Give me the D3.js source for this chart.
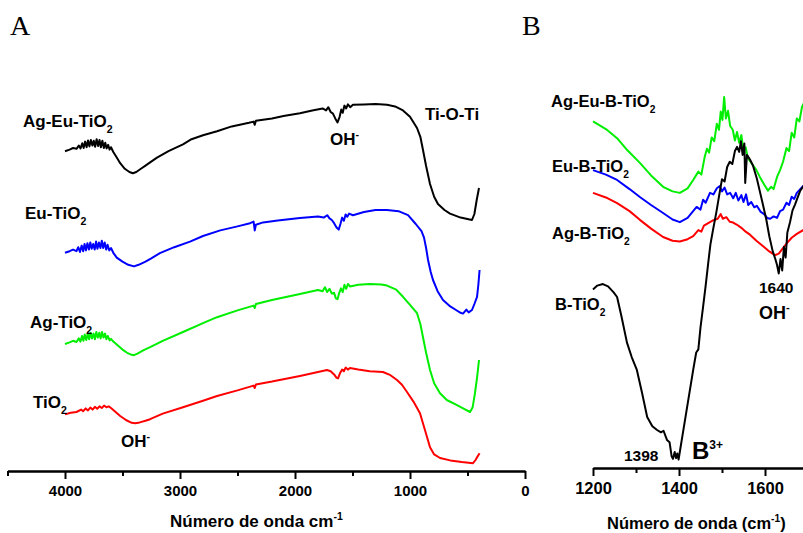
<!DOCTYPE html>
<html>
<head>
<meta charset="utf-8">
<script src="https://cdn.jsdelivr.net/npm/d3@7.9.0/dist/d3.min.js"></script>
<style>
  body { margin: 0; background: #fff; }
  svg { display: block; }
  text { font-family: "Liberation Sans", Arial, sans-serif; font-weight: bold; fill: #000; }
  .panel { font-family: "Liberation Serif", "Times New Roman", serif; font-weight: normal; }
</style>
</head>
<body>
<svg id="chart" width="803" height="533"></svg>
<script>
// panel A: wavenumber (cm-1) vs transmittance (a.u., offset curves)
const ticksA = [4000, 3000, 2000, 1000, 0];
const minorTicksA = [4500, 3500, 2500, 1500, 500];

const agEuTiO2 = [[4000,80.2],[3960,80.6],[3930,81.0],[3900,80.8],[3880,81.6],[3865,80.9],[3850,82.2],[3838,81.0],[3825,82.6],[3812,81.2],[3800,82.9],[3788,81.4],[3775,83.0],[3762,81.6],[3750,82.8],[3738,81.3],[3725,83.2],[3712,81.5],[3700,83.0],[3688,81.2],[3675,82.8],[3662,81.0],[3650,82.3],[3638,80.9],[3625,81.8],[3612,80.6],[3600,81.2],[3580,80.0],[3550,78.6],[3520,77.2],[3480,75.8],[3440,75.0],[3410,74.7],[3380,75.0],[3340,75.8],[3300,76.6],[3260,77.4],[3200,78.6],[3100,80.2],[2974,81.9],[2900,83.2],[2800,84.2],[2678,85.2],[2550,86.4],[2400,87.3],[2360,87.6],[2350,86.8],[2340,87.8],[2200,88.4],[2100,89.0],[1957,89.7],[1850,90.4],[1760,90.9],[1730,90.4],[1710,91.2],[1690,90.0],[1670,89.6],[1650,88.4],[1630,87.4],[1612,88.8],[1598,90.6],[1585,89.8],[1570,91.6],[1555,90.9],[1540,91.9],[1520,91.2],[1496,91.8],[1400,91.9],[1300,92.0],[1200,91.8],[1130,91.4],[1061,90.4],[1000,88.8],[939,86.0],[910,83.8],[887,80.5],[860,76.5],[826,72.0],[790,68.8],[757,67.0],[700,65.5],[652,64.6],[560,63.6],[461,63.0],[440,64.5],[420,68.0],[400,71.0]];

const euTiO2 = [[4000,54.8],[3960,55.2],[3930,55.6],[3900,55.2],[3885,56.2],[3870,55.0],[3855,56.6],[3842,55.2],[3830,57.0],[3818,55.4],[3805,57.2],[3792,55.6],[3780,57.4],[3768,55.8],[3755,57.0],[3742,55.6],[3730,57.6],[3718,55.8],[3705,57.4],[3692,56.0],[3680,57.8],[3668,56.0],[3655,57.4],[3642,55.6],[3630,56.8],[3615,55.4],[3600,56.0],[3580,54.8],[3550,53.6],[3500,52.6],[3450,51.8],[3400,51.4],[3360,51.8],[3300,52.6],[3250,53.4],[3175,54.7],[3050,56.2],[2913,57.6],[2800,59.0],[2650,60.4],[2500,61.4],[2391,62.2],[2360,62.6],[2350,60.4],[2340,61.8],[2278,62.4],[2150,62.9],[1957,63.5],[1800,63.9],[1750,63.6],[1720,64.2],[1700,63.4],[1680,63.0],[1660,62.2],[1640,61.2],[1620,60.6],[1605,62.0],[1590,63.6],[1575,62.8],[1560,64.4],[1545,63.8],[1530,64.6],[1496,64.2],[1400,65.0],[1300,65.5],[1200,65.5],[1100,65.2],[1017,64.2],[950,62.0],[900,60.2],[878,58.6],[860,56.0],[843,53.0],[820,50.0],[800,48.0],[760,45.2],[713,43.0],[650,41.4],[600,40.5],[560,39.8],[539,39.6],[510,40.6],[490,39.9],[461,40.5],[440,42.0],[417,43.8],[405,47.0],[395,50.5]];

const agTiO2 = [[4000,32.0],[3960,32.4],[3930,32.8],[3900,32.5],[3880,33.4],[3866,32.6],[3852,34.0],[3840,32.8],[3828,34.4],[3815,33.0],[3802,34.6],[3790,33.2],[3778,34.8],[3765,33.4],[3752,34.6],[3740,33.2],[3728,35.0],[3715,33.6],[3702,34.8],[3690,33.4],[3678,35.0],[3665,33.6],[3652,34.6],[3640,33.2],[3628,34.0],[3612,32.9],[3600,33.3],[3580,32.6],[3540,31.6],[3500,30.6],[3460,29.8],[3420,29.3],[3400,29.2],[3370,29.6],[3320,30.4],[3260,31.2],[3150,32.8],[2974,35.0],[2800,37.2],[2678,38.7],[2500,40.4],[2360,41.6],[2350,41.0],[2340,42.0],[2200,43.0],[1957,44.5],[1800,45.5],[1760,45.2],[1740,46.2],[1720,45.0],[1700,45.8],[1680,44.6],[1660,44.8],[1645,43.4],[1630,43.2],[1615,44.8],[1600,45.9],[1585,45.0],[1570,46.8],[1555,45.8],[1540,47.0],[1522,46.4],[1450,46.8],[1350,47.0],[1250,46.9],[1200,46.6],[1120,45.6],[1061,43.8],[1000,41.8],[939,39.7],[910,37.0],[887,33.7],[860,29.8],[826,25.5],[790,22.2],[739,19.7],[680,18.0],[591,16.7],[530,15.8],[478,15.0],[455,16.2],[435,19.7],[415,24.0],[400,28.0]];

const tiO2 = [[4000,14.4],[3950,14.8],[3900,15.0],[3860,15.6],[3843,15.2],[3820,15.9],[3800,15.4],[3780,16.1],[3760,15.6],[3740,16.3],[3720,15.8],[3700,16.4],[3680,16.0],[3660,16.6],[3640,16.2],[3620,16.4],[3600,16.0],[3560,15.0],[3520,14.0],[3470,13.0],[3420,12.3],[3390,12.2],[3350,12.4],[3300,12.8],[3260,13.2],[3150,14.6],[2974,16.2],[2800,17.8],[2678,19.0],[2500,20.4],[2360,21.6],[2350,21.0],[2340,21.9],[2200,22.6],[1957,24.0],[1800,25.0],[1722,25.5],[1690,25.2],[1660,24.4],[1640,23.6],[1626,23.4],[1610,24.6],[1590,25.6],[1575,25.2],[1560,26.1],[1540,25.6],[1522,26.0],[1450,25.6],[1350,25.2],[1235,25.0],[1170,24.2],[1113,23.0],[1070,21.8],[1026,20.0],[970,17.6],[913,14.7],[870,10.5],[826,6.2],[790,4.4],[739,3.5],[650,2.9],[550,2.5],[452,2.2],[430,3.0],[410,4.0],[395,4.7]];

// panel B: 1200-1700 cm-1 region
const ticksB = [1200, 1400, 1600];
const minorTicksB = [1300, 1500, 1700];

const agEuBTiO2 = [[1200,91.2],[1230,89.2],[1256,86.8],[1280,83.6],[1309,80.3],[1335,77.0],[1363,74.0],[1385,72.8],[1402,72.4],[1420,73.6],[1433,75.8],[1445,78.0],[1452,77.2],[1460,82.0],[1465,84.0],[1470,83.0],[1476,87.0],[1482,86.0],[1488,90.6],[1493,89.0],[1497,93.8],[1501,91.6],[1505,97.6],[1509,92.0],[1514,94.0],[1519,90.0],[1525,89.0],[1530,86.2],[1535,88.4],[1540,85.6],[1545,87.6],[1550,83.6],[1555,84.4],[1560,81.6],[1570,80.0],[1580,78.4],[1588,76.6],[1598,74.6],[1607,73.0],[1614,74.0],[1620,73.4],[1628,76.6],[1635,78.4],[1642,80.6],[1650,84.2],[1656,83.4],[1662,88.2],[1668,87.0],[1674,92.0],[1680,91.2],[1686,95.0],[1692,96.4]];

const euBTiO2 = [[1200,78.4],[1230,77.2],[1256,75.8],[1285,73.4],[1309,71.3],[1335,69.2],[1363,67.1],[1385,65.4],[1402,64.7],[1420,65.8],[1441,68.7],[1450,68.0],[1456,70.6],[1462,69.8],[1472,72.4],[1480,72.0],[1488,73.6],[1495,74.2],[1500,72.8],[1506,73.8],[1512,72.0],[1519,72.4],[1526,71.0],[1532,72.4],[1538,70.4],[1545,71.8],[1550,70.0],[1556,72.0],[1561,69.2],[1568,70.0],[1575,68.6],[1581,69.0],[1590,67.4],[1598,66.8],[1605,65.8],[1612,65.6],[1620,66.2],[1628,65.8],[1635,67.6],[1642,68.0],[1650,69.8],[1656,69.2],[1662,71.4],[1668,70.8],[1674,72.4],[1682,73.4],[1692,74.6]];

const agBTiO2 = [[1200,72.4],[1230,71.2],[1256,69.7],[1285,67.6],[1309,65.3],[1335,63.0],[1363,60.8],[1385,59.8],[1402,59.6],[1420,60.2],[1433,61.0],[1445,62.6],[1452,62.2],[1458,63.8],[1470,64.6],[1480,65.2],[1490,65.6],[1497,66.8],[1502,65.6],[1510,66.0],[1518,64.8],[1526,64.6],[1535,64.0],[1545,63.2],[1555,62.2],[1565,61.4],[1580,59.8],[1595,58.4],[1610,57.0],[1623,56.0],[1632,56.4],[1640,57.6],[1651,59.2],[1662,60.6],[1674,61.6],[1692,62.8]];

const bTiO2 = [[1200,47.0],[1210,48.0],[1223,48.4],[1235,47.8],[1248,46.2],[1256,45.0],[1266,40.0],[1279,33.0],[1290,29.2],[1302,25.8],[1314,19.8],[1326,13.4],[1338,11.0],[1349,10.0],[1358,9.4],[1364,9.8],[1372,7.4],[1378,6.8],[1383,3.0],[1386,2.4],[1390,4.2],[1393,2.6],[1396,3.8],[1399,2.2],[1403,5.0],[1409,9.2],[1420,16.8],[1433,25.8],[1440,30.4],[1445,31.2],[1450,37.0],[1456,42.4],[1462,48.0],[1468,54.0],[1473,58.8],[1479,62.6],[1487,67.4],[1495,72.8],[1500,76.0],[1506,75.4],[1512,79.2],[1518,80.6],[1524,80.0],[1530,83.4],[1535,84.5],[1540,83.2],[1544,86.0],[1548,82.4],[1552,85.4],[1554,75.0],[1558,82.4],[1565,81.2],[1572,79.6],[1581,76.2],[1588,72.8],[1595,69.4],[1603,65.4],[1610,61.0],[1618,57.0],[1624,55.0],[1628,53.4],[1632,51.2],[1636,55.0],[1640,52.0],[1644,58.2],[1648,55.4],[1652,62.0],[1658,64.6],[1664,67.8],[1670,69.4],[1676,71.2],[1682,73.0],[1692,74.6]];

const seriesA = [
    { key: "agEu", data: agEuTiO2, color: "#000000" },
    { key: "eu", data: euTiO2, color: "#0000ff" },
    { key: "ag", data: agTiO2, color: "#00ee00" },
    { key: "ti", data: tiO2, color: "#ff0000" }
];
const seriesB = [
    { key: "agEuB", data: agEuBTiO2, color: "#00ee00" },
    { key: "euB", data: euBTiO2, color: "#0000ff" },
    { key: "agB", data: agBTiO2, color: "#ff0000" },
    { key: "b", data: bTiO2, color: "#000000" }
];

const svg = d3.select("#chart");

let xA = d3.scaleLinear().domain([4500, 0]).range([7.5, 525]);
let yA = d3.scaleLinear().domain([0, 100]).range([472, 72]);
let xB = d3.scaleLinear().domain([1200, 1700]).range([593, 808]);
let yB = d3.scaleLinear().domain([0, 100]).range([468, 88]);

function drawLines(g, list, x, y) {
    let line = d3.line().x(d => x(d[0])).y(d => y(d[1]));
    g.selectAll("path.spec")
        .data(list)
        .enter()
        .append("path")
        .attr("class", "spec")
        .attr("d", d => line(d.data))
        .attr("fill", "none")
        .attr("stroke", d => d.color)
        .attr("stroke-width", 2)
        .attr("stroke-linejoin", "round");
}

function drawAxis(g, x, yPos, major, minor, fontSize) {
    let minorAxis = d3.axisBottom(x).tickValues(minor).tickSize(5).tickSizeOuter(0).tickFormat("");
    let majorAxis = d3.axisBottom(x).tickValues(major).tickSize(8).tickSizeOuter(0).tickPadding(6)
        .tickFormat(d3.format("d"));
    let gm = g.append("g").attr("transform", `translate(0,${yPos})`).call(minorAxis);
    let ga = g.append("g").attr("transform", `translate(0,${yPos})`).call(majorAxis);
    [gm, ga].forEach(a => {
        a.selectAll("path, line").attr("stroke", "#000").attr("stroke-width", 2);
    });
    ga.selectAll("text")
        .attr("font-size", fontSize)
        .attr("font-family", "'Liberation Sans', Arial, sans-serif")
        .attr("font-weight", "bold")
        .attr("fill", "#000");
}

// text with sub/superscript parts: ["text"], ["2","sub"], ["-","sup"]
function label(x, y, parts, size) {
    let t = svg.append("text").attr("x", x).attr("y", y).attr("font-size", size);
    let shift = 0;
    parts.forEach(([s, kind]) => {
        let ts = t.append("tspan").text(s);
        let want = kind === "sub" ? size * 0.38 : kind === "sup" ? -size * 0.42 : 0;
        if (want !== shift) ts.attr("dy", want - shift);
        shift = want;
        if (kind) ts.attr("font-size", size * 0.62);
    });
    return t;
}

// panel A
let gA = svg.append("g");
drawLines(gA, seriesA, xA, yA);
drawAxis(gA, xA, 471, ticksA, minorTicksA, 15);

// panel B
let gB = svg.append("g");
drawLines(gB, seriesB, xB, yB);
drawAxis(gB, xB, 468, ticksB, minorTicksB, 16.5);

// panel letters
svg.append("text").attr("class", "panel").attr("x", 10).attr("y", 35).attr("font-size", 28).text("A");
svg.append("text").attr("class", "panel").attr("x", 522).attr("y", 35).attr("font-size", 28).text("B");

// panel A labels
label(23, 127, [["Ag-Eu-TiO"], ["2", "sub"]], 17);
label(25, 219, [["Eu-TiO"], ["2", "sub"]], 17);
label(30, 328, [["Ag-TiO"], ["2", "sub"]], 17);
label(33, 408, [["TiO"], ["2", "sub"]], 17);
label(330, 145, [["OH"], ["-", "sup"]], 17);
label(121, 447, [["OH"], ["-", "sup"]], 17);
label(425, 120, [["Ti-O-Ti"]], 17);
label(170, 527, [["Número de onda cm"], ["-1", "sup"]], 17);

// panel B labels
label(551, 107, [["Ag-Eu-B-TiO"], ["2", "sub"]], 16.5);
label(552, 172, [["Eu-B-TiO"], ["2", "sub"]], 16.5);
label(552, 239, [["Ag-B-TiO"], ["2", "sub"]], 16.5);
label(555, 310, [["B-TiO"], ["2", "sub"]], 16.5);
label(759, 293, [["1640"]], 15.5);
label(759, 319, [["OH"], ["-", "sup"]], 18);
label(624, 461, [["1398"]], 15.5);
label(692, 459, [["B"], ["3+", "sup"]], 24).select("tspan:last-child").attr("font-size", 12);
label(607, 529, [["Número de onda (cm"], ["-1", "sup"], [")"]], 16.5);
</script>
</body>
</html>
